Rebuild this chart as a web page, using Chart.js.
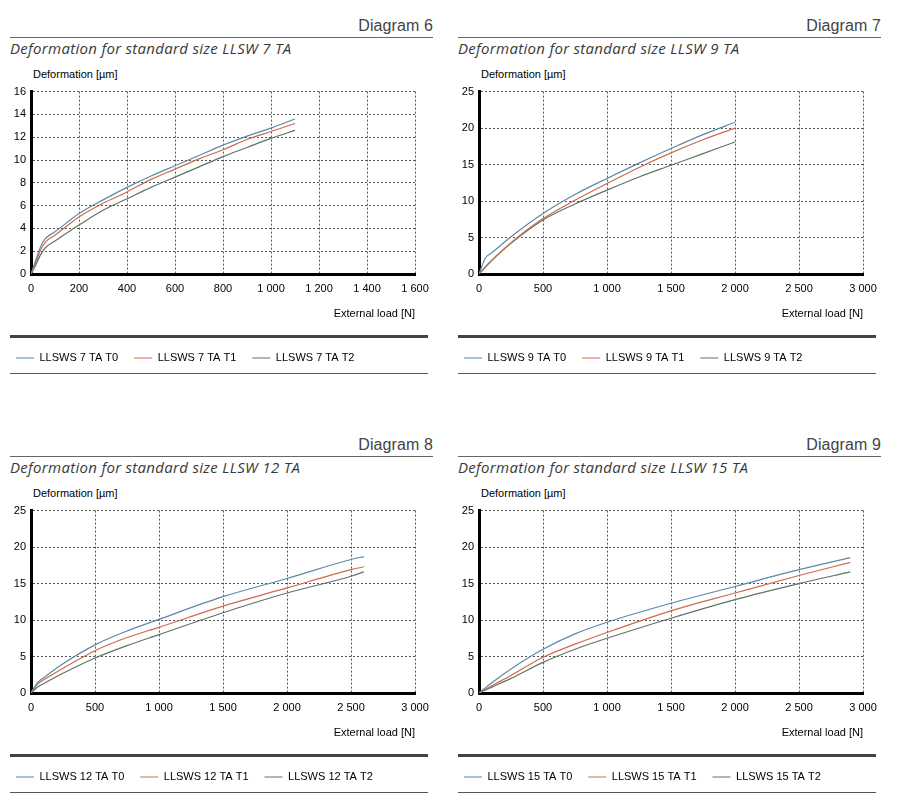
<!DOCTYPE html>
<html>
<head>
<meta charset="utf-8">
<script src="https://cdn.jsdelivr.net/npm/chart.js@4.4.1/dist/chart.umd.min.js"></script>
<style>
  body { margin: 0; background: #fff; width: 908px; height: 809px; overflow: hidden; }
  .panel { position: absolute; width: 440px; height: 390px; }
  .diag { position: absolute; right: 7px; top: 17px; font: 16px 'Liberation Sans', Arial, sans-serif; line-height: 18px; color: #444; letter-spacing: 0.1px; }
  .rule { position: absolute; left: 10px; top: 37px; width: 423px; height: 1px; background: #666; }
  .title { position: absolute; left: 10px; top: 39px; font: italic 15px 'Open Sans', sans-serif; line-height: 18px; color: #3a3a3a; letter-spacing: 0.3px; }
  .ylab { position: absolute; left: 33px; top: 68px; font: 11px 'Liberation Sans', Arial, sans-serif; line-height: 13px; color: #000; }
  canvas { position: absolute; left: 0; top: 80px; }
  .thick { position: absolute; left: 10px; top: 335px; width: 418px; height: 3px; background: #444; }
  .thin { position: absolute; left: 10px; top: 373px; width: 418px; height: 1px; background: #555; }
</style>
</head>
<body>
<script>
// Diagram 6 - LLSW 7 TA
const load7 = [0, 20, 40, 60, 100, 200, 300, 400, 500, 600, 700, 800, 900, 1000, 1100];
const def7T0 = [0, 1.2, 2.4, 3.1, 3.7, 5.3, 6.5, 7.6, 8.6, 9.5, 10.4, 11.3, 12.1, 12.8, 13.6];
const def7T1 = [0, 1.0, 2.1, 2.8, 3.4, 5.0, 6.2, 7.2, 8.3, 9.2, 10.1, 10.9, 11.8, 12.5, 13.2];
const def7T2 = [0, 0.8, 1.7, 2.3, 2.9, 4.3, 5.6, 6.6, 7.6, 8.5, 9.4, 10.3, 11.1, 11.9, 12.6];

// Diagram 7 - LLSW 9 TA
const load9 = [0, 50, 100, 250, 500, 750, 1000, 1250, 1500, 1750, 2000];
const def9T0 = [0, 2.2, 2.9, 5.1, 8.3, 10.9, 13.1, 15.2, 17.2, 19.1, 20.8];
const def9T1 = [0, 1.0, 1.9, 4.3, 7.6, 10.1, 12.4, 14.6, 16.6, 18.4, 20.0];
const def9T2 = [0, 0.95, 1.85, 4.2, 7.4, 9.6, 11.5, 13.3, 14.9, 16.5, 18.1];

// Diagram 8 - LLSW 12 TA
const load12 = [0, 50, 100, 250, 500, 750, 1000, 1500, 2000, 2500, 2600];
const def12T0 = [0, 1.4, 2.1, 4.0, 6.6, 8.5, 10.1, 13.2, 15.7, 18.3, 18.7];
const def12T1 = [0, 1.2, 1.8, 3.4, 5.8, 7.6, 9.0, 11.9, 14.4, 16.9, 17.3];
const def12T2 = [0, 0.8, 1.3, 2.7, 4.8, 6.5, 8.0, 11.0, 13.7, 16.0, 16.6];

// Diagram 9 - LLSW 15 TA
const load15 = [0, 100, 250, 500, 750, 1000, 1500, 2000, 2500, 2900];
const def15T0 = [0, 1.4, 3.3, 6.0, 8.1, 9.7, 12.3, 14.6, 16.9, 18.55];
const def15T1 = [0, 1.0, 2.4, 4.9, 6.7, 8.3, 11.25, 13.7, 16.1, 17.9];
const def15T2 = [0, 0.8, 2.0, 4.2, 6.0, 7.5, 10.25, 12.8, 15.0, 16.6];

const seriesColors = ['#5a8aa6', '#cf6a4c', '#5f7466'];

const panels = [
  { diagram: 'Diagram 6', size: '7', left: 0, top: 0, loads: load7, series: [def7T0, def7T1, def7T2], xMax: 1600, xStep: 200, yMax: 16, yStep: 2 },
  { diagram: 'Diagram 7', size: '9', left: 448, top: 0, loads: load9, series: [def9T0, def9T1, def9T2], xMax: 3000, xStep: 500, yMax: 25, yStep: 5 },
  { diagram: 'Diagram 8', size: '12', left: 0, top: 419, loads: load12, series: [def12T0, def12T1, def12T2], xMax: 3000, xStep: 500, yMax: 25, yStep: 5 },
  { diagram: 'Diagram 9', size: '15', left: 448, top: 419, loads: load15, series: [def15T0, def15T1, def15T2], xMax: 3000, xStep: 500, yMax: 25, yStep: 5 },
];

const tickFont = { family: "'Liberation Sans', Arial, sans-serif", size: 11 };

function fmt(v) {
  return String(v).replace(/\B(?=(\d{3})+(?!\d))/g, ' ');
}

function addDiv(parent, cls, text) {
  const d = document.createElement('div');
  d.className = cls;
  if (text) d.textContent = text;
  parent.appendChild(d);
  return d;
}

panels.forEach((p) => {
  const panel = addDiv(document.body, 'panel');
  panel.style.left = p.left + 'px';
  panel.style.top = p.top + 'px';
  addDiv(panel, 'diag', p.diagram);
  addDiv(panel, 'rule');
  addDiv(panel, 'title', 'Deformation for standard size LLSW ' + p.size + ' TA');
  addDiv(panel, 'ylab', 'Deformation [µm]');
  const canvas = document.createElement('canvas');
  canvas.width = 440;
  canvas.height = 300;
  panel.appendChild(canvas);
  addDiv(panel, 'thick');
  addDiv(panel, 'thin');

  new Chart(canvas, {
    type: 'line',
    data: {
      datasets: p.series.map((vals, i) => ({
        label: 'LLSWS ' + p.size + ' TA T' + i,
        data: p.loads.map((x, j) => ({ x: x, y: vals[j] })),
        borderColor: seriesColors[i],
        backgroundColor: seriesColors[i],
        borderWidth: 1.2,
        pointRadius: 0,
        cubicInterpolationMode: 'monotone',
        fill: false,
      })),
    },
    options: {
      responsive: false,
      animation: false,
      layout: { padding: { left: 0, right: 25, top: 10, bottom: 6.5 } },
      plugins: {
        tooltip: { enabled: false },
        legend: {
          position: 'bottom',
          align: 'start',
          labels: {
            usePointStyle: true,
            pointStyle: 'line',
            pointStyleWidth: 18,
            padding: 16,
            color: '#000',
            font: tickFont,
          },
        },
      },
      scales: {
        x: {
          type: 'linear',
          min: 0,
          max: p.xMax,
          afterFit: (scale) => { scale.height = 62.5; },
          ticks: {
            stepSize: p.xStep,
            autoSkip: false,
            maxRotation: 0,
            padding: 8,
            color: '#000',
            font: tickFont,
            callback: (v) => fmt(v),
          },
          grid: { color: '#555', lineWidth: 1, drawTicks: false },
          border: { display: true, color: '#000', width: 3, dash: [2, 2] },
          title: {
            display: true,
            text: 'External load [N]',
            align: 'end',
            color: '#000',
            font: tickFont,
            padding: { top: 0, bottom: 16 },
          },
        },
        y: {
          min: 0,
          max: p.yMax,
          afterFit: (scale) => { scale.width = 31; },
          ticks: {
            stepSize: p.yStep,
            padding: 5,
            color: '#000',
            font: tickFont,
          },
          grid: { color: '#555', lineWidth: 1, drawTicks: false },
          border: { display: true, color: '#000', width: 3, dash: [2, 2] },
        },
      },
    },
  });
});
</script>
</body>
</html>
